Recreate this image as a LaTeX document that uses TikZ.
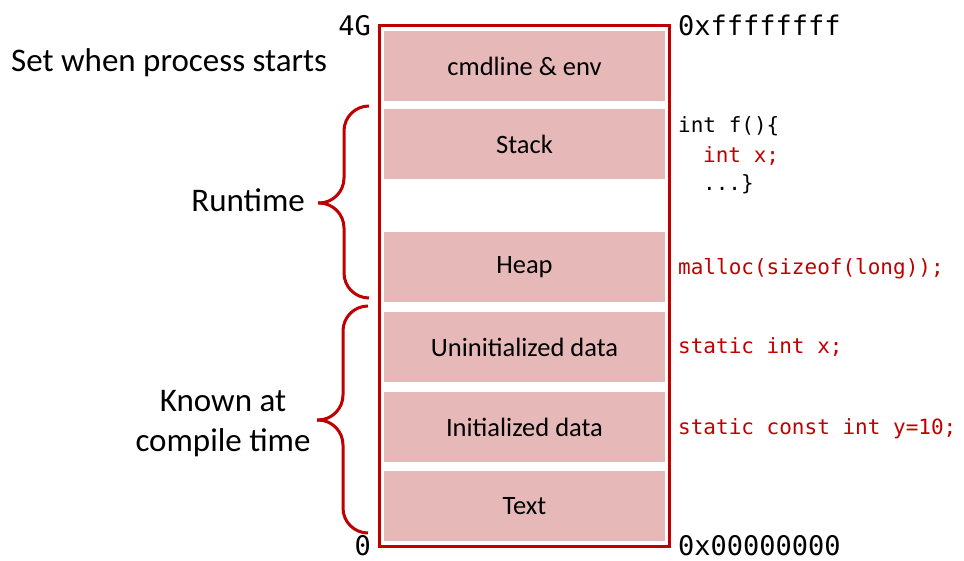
\documentclass[tikz,border=0pt]{standalone}
\usepackage{fontspec}
\setmainfont{Carlito}
\newfontfamily\codefont{DejaVu Sans Mono}
\definecolor{memred}{HTML}{C00000}
\definecolor{segfill}{HTML}{E6B9B8}

\begin{document}
\begin{tikzpicture}[x=1pt,y=-1pt,
	seg/.style={fill=segfill,minimum width=281pt,minimum height=70pt,inner sep=0pt,font=\fontsize{26.5}{30}\selectfont},
	addr/.style={inner sep=0pt,font=\codefont\fontsize{27}{32}\selectfont},
	code/.style={inner sep=0pt,anchor=base west,font=\codefont\fontsize{21}{25}\selectfont},
	side/.style={inner sep=0pt,font=\fontsize{33}{40}\selectfont},
	bracearm/.style={draw=memred,line width=3pt,rounded corners=25pt}]
	\useasboundingbox (0,0) rectangle (964,561);

	% address space frame
	\node [draw=memred,line width=3pt,minimum width=289.5pt,minimum height=520.5pt,inner sep=0pt] (mem) at (524.25,286.25) {};

	% segments, top to bottom
	\node [seg] (cmd)    at (524.5,66)  {cmdline \& env};
	\node [seg] (stack)  at (524.5,144) {Stack};
	\node [seg] (heap)   at (524.5,267) {Heap};
	\node [seg] (bss)    at (524.5,347) {Uninitialized data};
	\node [seg] (data)   at (524.5,427) {Initialized data};
	\node [seg] (text)   at (524.5,506) {Text};

	% addresses
	\node [addr,anchor=base east] (top) at (371,36)  {4G};
	\node [addr,anchor=base east] (bot) at (371,555) {0};
	\node [addr,anchor=base west] (hi)  at (678,36)  {0xffffffff};
	\node [addr,anchor=base west] (lo)  at (678,555) {0x00000000};

	% code samples
	\node [code] (fa) at (678,133) {int f()\{};
	\node [code,text=memred] (fb) at (703,163) {int x;};
	\node [code] (fc) at (703,191) {...\}};
	\node [code,text=memred] (mal) at (678,275) {malloc(sizeof(long));};
	\node [code,text=memred] (sx)  at (678,354) {static int x;};
	\node [code,text=memred] (sy)  at (678,434) {static const int y=10;};

	% left side
	\node [side,anchor=base west] (set) at (11,71.7) {Set when process starts};
	\coordinate (rtop) at (369,106);
	\coordinate (rbot) at (369,298);
	\coordinate (rtip) at (318,203);
	\draw [bracearm] (rtop) -- ++(-25,0) |- (rtip);
	\draw [bracearm] (rbot) -- ++(-25,0) |- (rtip);
	\node [side,anchor=base east] (run) at (305,211.7) {Runtime};
	\coordinate (ktop) at (368,306);
	\coordinate (kbot) at (368,533);
	\coordinate (ktip) at (317,420);
	\draw [bracearm] (ktop) -- ++(-25,0) |- (ktip);
	\draw [bracearm] (kbot) -- ++(-25,0) |- (ktip);
	\node [side,align=center] (known) at (223,424) {Known at\\compile time};
\end{tikzpicture}
\end{document}
